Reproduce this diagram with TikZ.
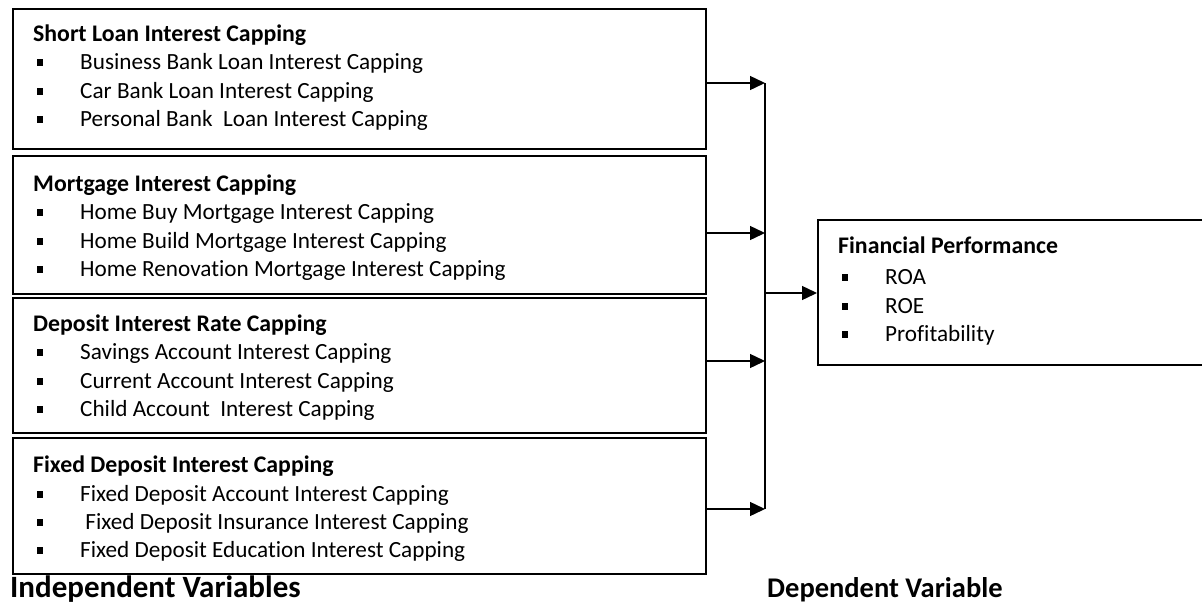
\documentclass[tikz,border=0pt]{standalone}
\usepackage{fontspec}
\setmainfont{Carlito}[Ligatures=NoCommon]
\usetikzlibrary{arrows.meta}
\begin{document}
\begin{tikzpicture}[x=1pt,y=-1pt,
  box/.style={draw=black,line width=2.4pt,rectangle,anchor=north west,inner sep=0pt},
  head/.style={anchor=base west,inner sep=0pt,font=\fontsize{23.8}{26}\selectfont\bfseries},
  itemtext/.style={anchor=base west,inner sep=0pt,font=\fontsize{23.2}{26}\selectfont},
  bul/.style={fill=black,minimum size=6.5pt,inner sep=0pt,rectangle},
  foot/.style={anchor=base west,inner sep=0pt,font=\fontsize{31}{34}\selectfont\bfseries},
  footb/.style={anchor=base west,inner sep=0pt,font=\fontsize{28.5}{32}\selectfont\bfseries},
  conn/.style={line width=1.4pt},
  arr/.style={line width=1.4pt,-{Triangle[length=15pt,width=14pt]}}]
\useasboundingbox (0,0) rectangle (1202,605);
\newcommand\bitem[4]{%
  \node[bul] (#1b) at (#2,#3-6.5) {};
  \node[itemtext] (#1) at (#2+40,#3) {#4};}

% boxes
\node[box,minimum width=693pt,minimum height=140pt] (b1) at (12,8) {};
\node[box,minimum width=693pt,minimum height=138pt] (b2) at (12,155) {};
\node[box,minimum width=693pt,minimum height=135pt] (b3) at (12,297) {};
\node[box,minimum width=693pt,minimum height=136pt] (b4) at (12,437) {};
\node[box,minimum width=400pt,minimum height=145pt] (fp) at (817,219) {};

% box 1
\node[head] (h1) at (33,41) {Short Loan Interest Capping};
\bitem{i11}{40}{69}{Business Bank Loan Interest Capping}
\bitem{i12}{40}{98}{Car Bank Loan Interest Capping}
\bitem{i13}{40}{126}{Personal Bank\ \ Loan Interest Capping}
% box 2
\node[head] (h2) at (33,191) {Mortgage Interest Capping};
\bitem{i21}{40}{219}{Home Buy Mortgage Interest Capping}
\bitem{i22}{40}{248}{Home Build Mortgage Interest Capping}
\bitem{i23}{40}{276}{Home Renovation Mortgage Interest Capping}
% box 3
\node[head] (h3) at (33,331) {Deposit Interest Rate Capping};
\bitem{i31}{40}{359}{Savings Account Interest Capping}
\bitem{i32}{40}{388}{Current Account Interest Capping}
\bitem{i33}{40}{416}{Child Account\ \ Interest Capping}
% box 4
\node[head] (h4) at (33,472) {Fixed Deposit Interest Capping};
\bitem{i41}{40}{501}{Fixed Deposit Account Interest Capping}
\bitem{i42}{40}{529}{\ Fixed Deposit Insurance Interest Capping}
\bitem{i43}{40}{557}{Fixed Deposit Education Interest Capping}
% financial performance
\node[head] (hf) at (838,253) {Financial Performance};
\bitem{f1}{845}{284}{ROA}
\bitem{f2}{845}{313}{ROE}
\bitem{f3}{845}{341}{Profitability}

% footers
\node[foot] (ind) at (10,597) {Independent Variables};
\node[footb] (dep) at (767,597) {Dependent Variable};

% connectors
\coordinate (j1) at (765,83);
\coordinate (j2) at (765,233);
\coordinate (j3) at (765,361);
\coordinate (j4) at (765,509);
\coordinate (jm) at (765,293);
\draw[arr] (b1.east |- j1) -- (j1);
\draw[arr] (b2.east |- j2) -- (j2);
\draw[arr] (b3.east |- j3) -- (j3);
\draw[arr] (b4.east |- j4) -- (j4);
\draw[conn] (j1) -- (j4);
\draw[arr] (jm) -- (fp.west |- jm);
\end{tikzpicture}
\end{document}
